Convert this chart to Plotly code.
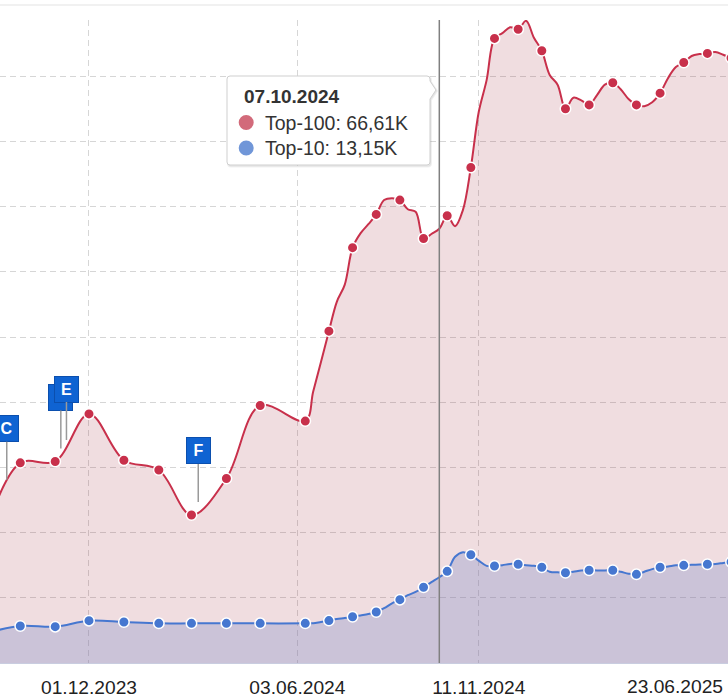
import plotly.graph_objects as go

# ---------------- data (values in thousands) ----------------
month_dates = ["2023-09-01", "2023-10-01", "2023-11-01", "2023-12-01", "2024-01-01",
               "2024-02-01", "2024-03-01", "2024-04-01", "2024-05-01"]
month_top100 = [20.5, 30.7, 30.9, 38.2, 31.1, 29.6, 22.7, 28.3, 39.5]
month_top10 = [4.6, 5.67, 5.57, 6.49, 6.29, 6.08, 6.08, 6.08, 6.08]

week_dates = [
    "2024-06-10", "2024-06-17", "2024-06-24", "2024-07-01", "2024-07-08", "2024-07-15",
    "2024-07-22", "2024-07-29", "2024-08-05", "2024-08-12", "2024-08-19", "2024-08-26",
    "2024-09-02", "2024-09-09", "2024-09-16", "2024-09-23", "2024-09-30", "2024-10-07",
    "2024-10-14", "2024-10-21", "2024-10-28", "2024-11-04", "2024-11-11", "2024-11-18",
    "2024-11-25", "2024-12-02", "2024-12-09", "2024-12-16", "2024-12-23", "2024-12-30",
    "2025-01-06", "2025-01-13", "2025-01-20", "2025-01-27", "2025-02-03", "2025-02-10",
    "2025-02-17", "2025-02-24", "2025-03-03", "2025-03-10", "2025-03-17", "2025-03-24",
    "2025-03-31", "2025-04-07", "2025-04-14", "2025-04-21", "2025-04-28", "2025-05-05",
    "2025-05-12", "2025-05-19", "2025-05-26", "2025-06-02", "2025-06-09", "2025-06-16",
    "2025-06-23"]
week_top100 = [
    37.1, 41.6, 46.2, 50.9, 55.4, 58.0,
    63.7, 65.9, 67.3, 68.8, 71.0, 71.3,
    71.0, 69.6, 69.2, 65.1, 65.8, 66.61,
    68.6, 67.0, 69.5, 76.0, 84.5, 89.4,
    95.8, 96.6, 97.5, 97.2, 98.5, 95.9,
    93.9, 90.2, 88.7, 85.0, 86.7, 86.3,
    85.6, 87.1, 88.7, 89.0, 88.0, 86.5,
    85.6, 85.4, 86.0, 87.4, 89.7, 91.4,
    92.1, 93.1, 93.4, 93.5, 93.7, 93.3,
    92.8]
week_top10 = [
    6.08, 6.1, 6.3, 6.5, 6.75, 6.9,
    7.1, 7.3, 7.5, 7.82, 8.4, 9.15,
    9.71, 10.4, 10.9, 11.61, 12.4, 13.15,
    14.06, 16.3, 17.0, 16.61, 15.7, 14.9,
    14.88, 15.0, 15.2, 15.14, 15.0, 14.9,
    14.68, 14.0, 13.9, 13.85, 14.0, 14.2,
    14.22, 14.2, 14.2, 14.22, 14.0, 13.7,
    13.6, 14.0, 14.4, 14.68, 14.8, 15.0,
    14.98, 15.05, 15.1, 15.14, 15.2, 15.35,
    15.5]

tick_dates = ["2023-12-01", "2024-06-03", "2024-11-11"]
tick_labels = ["01.12.2023", "03.06.2024", "11.11.2024"]
last_tick_label = "23.06.2025"
grid_values = [10, 20, 30, 40, 50, 60, 70, 80, 90]

flag_labels = ["\u00a0", "E", "F", "C"]
flag_dates = ["2023-11-06", "2023-11-11", "2024-03-07", "2023-09-19"]
flag_values = [32.9, 34.2, 24.7, 28.1]

hover_date = "2024-10-07"
hover_title = "07.10.2024"
hover_lines = ["Top-100: 66,61K", "Top-10: 13,15K"]

# ---------------- styling ----------------
W, H = 728, 698
TOP, BOTTOM = 20, 663
RED = "#c8304b"
BLUE = "#4677d0"
FONT = "Liberation Sans, Arial, sans-serif"


def px(xp):
    return xp / W


def py(yp):
    return (BOTTOM - yp) / (BOTTOM - TOP)


dates = month_dates + week_dates
top100 = month_top100 + week_top100
top10 = month_top10 + week_top10
mark_dates = month_dates + week_dates[::3]
mark_top100 = month_top100 + week_top100[::3]
mark_top10 = month_top10 + week_top10[::3]

fig = go.Figure()
fig.add_trace(go.Scatter(x=dates, y=top100, mode="lines",
                         line=dict(color=RED, width=2, shape="spline", smoothing=1),
                         fill="tozeroy", fillcolor="rgba(161,43,61,0.16)"))
fig.add_trace(go.Scatter(x=dates, y=top10, mode="lines",
                         line=dict(color=BLUE, width=2, shape="spline", smoothing=1),
                         fill="tozeroy", fillcolor="rgba(120,135,200,0.30)"))
fig.add_trace(go.Scatter(x=mark_dates, y=mark_top100, mode="markers",
                         marker=dict(color=RED, size=10.5, line=dict(color="white", width=1.5))))
fig.add_trace(go.Scatter(x=mark_dates, y=mark_top10, mode="markers",
                         marker=dict(color=BLUE, size=10.5, line=dict(color="white", width=1.5))))

shapes = []
# top separator line
shapes.append(dict(type="line", xref="paper", yref="paper", x0=0, x1=1,
                   y0=py(5), y1=py(5), line=dict(color="#e3e3e3", width=1)))
# crosshair
shapes.append(dict(type="line", xref="x", yref="paper", x0=hover_date, x1=hover_date,
                   y0=0, y1=1, line=dict(color="#808080", width=1.5)))


def rounded_path(l, t, r, b, rad, pointer=None):
    p = f"M {px(l+rad)},{py(t)} L {px(r-rad)},{py(t)} Q {px(r)},{py(t)} {px(r)},{py(t+rad)} "
    if pointer:
        y1, tipx, tipy, y2 = pointer
        p += f"L {px(r)},{py(y1)} L {px(tipx)},{py(tipy)} L {px(r)},{py(y2)} "
    p += (f"L {px(r)},{py(b-rad)} Q {px(r)},{py(b)} {px(r-rad)},{py(b)} "
          f"L {px(l+rad)},{py(b)} Q {px(l)},{py(b)} {px(l)},{py(b-rad)} "
          f"L {px(l)},{py(t+rad)} Q {px(l)},{py(t)} {px(l+rad)},{py(t)} Z")
    return p


# tooltip shadow + box
shapes.append(dict(type="path", xref="paper", yref="paper",
                   path=rounded_path(228, 77, 431, 166.5, 3, (82, 437, 91, 100)),
                   fillcolor="rgba(0,0,0,0.06)", line=dict(color="rgba(0,0,0,0.06)", width=2)))
shapes.append(dict(type="path", xref="paper", yref="paper",
                   path=rounded_path(227, 76, 430, 165, 3, (81, 436, 90, 99)),
                   fillcolor="white", line=dict(color="#cfcfcf", width=1)))
for cy, col in [(122.5, "#d26a7a"), (148, "#7096d8")]:
    shapes.append(dict(type="circle", xref="paper", yref="paper",
                       x0=px(246.2 - 7.5), x1=px(246.2 + 7.5), y0=py(cy + 7.5), y1=py(cy - 7.5),
                       fillcolor=col, line=dict(width=0)))

annotations = []
annotations.append(dict(xref="paper", yref="paper", x=px(242), y=py(96.7), xanchor="left",
                        yanchor="middle", showarrow=False, text=f"<b>{hover_title}</b>",
                        font=dict(family=FONT, size=19, color="#333333")))
for ly, txt in zip([122.5, 148], hover_lines):
    annotations.append(dict(xref="paper", yref="paper", x=px(262.5), y=py(ly), xanchor="left",
                            yanchor="middle", showarrow=False, text=txt,
                            font=dict(family=FONT, size=19.5, color="#333333")))
# last tick label (tick lies just beyond right edge, label justified inside)
annotations.append(dict(xref="paper", yref="paper", x=px(725), y=py(686), xanchor="right",
                        yanchor="middle", showarrow=False, text=last_tick_label,
                        font=dict(family=FONT, size=19.2, color="#222222")))
# flags
for lab, d, v in zip(flag_labels, flag_dates, flag_values):
    annotations.append(dict(x=d, y=v, xref="x", yref="y", text=f"<b>{lab}</b>",
                            showarrow=True, arrowhead=0, arrowwidth=1.5, arrowcolor="#9a9a9a",
                            ax=0, ay=-51, standoff=0,
                            font=dict(family=FONT, size=16, color="white"),
                            bgcolor="#0f63d2", bordercolor="#0b4fae", borderwidth=1,
                            borderpad=2, width=19, height=21, align="center", valign="middle"))

fig.update_layout(width=W, height=H, margin=dict(l=0, r=0, t=TOP, b=H - BOTTOM),
                  paper_bgcolor="white", plot_bgcolor="white", showlegend=False,
                  hovermode=False, shapes=shapes, annotations=annotations)
fig.update_xaxes(type="date", range=["2023-09-13", "2025-06-20 07:00"],
                 tickmode="array", tickvals=tick_dates, ticktext=tick_labels,
                 showgrid=True, gridcolor="#d6d6d6", griddash="6px,4px", gridwidth=1,
                 showline=True, linecolor="#c9cde0", linewidth=1, ticks="",
                 ticklabelstandoff=7,
                 tickfont=dict(family=FONT, size=19.2, color="#222222"), zeroline=False)
fig.update_yaxes(range=[0, 98.62], tickmode="array", tickvals=grid_values,
                 showticklabels=False, showgrid=True, gridcolor="#d6d6d6",
                 griddash="6px,4px", gridwidth=1, zeroline=False)

fig.write_html("out.html", config={"displayModeBar": False},
               post_script="document.body.style.margin='0';document.body.style.padding='0';")
